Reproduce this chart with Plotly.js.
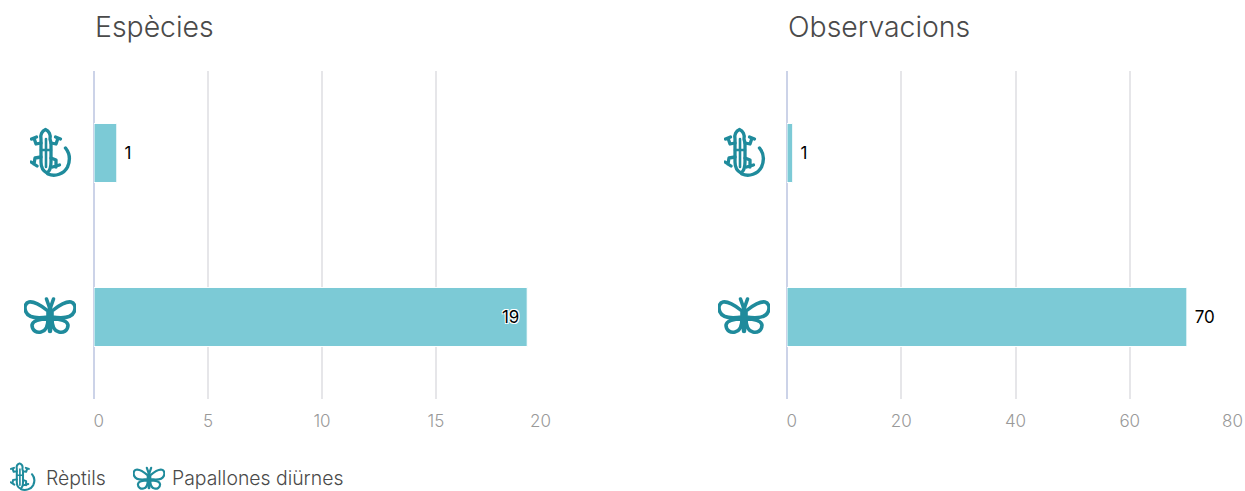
<!DOCTYPE html>
<html><head><meta charset="utf-8">
<script src="https://cdn.plot.ly/plotly-3.0.1.min.js"></script>
<style>html,body{margin:0;padding:0;background:#fff;overflow:hidden}</style>
</head><body><div id="chart" style="width:1245px;height:491px"></div>
<script>
const categories = ['Papallones diürnes', 'Rèptils'];
const especies = [19, 1];
const observacions = [70, 1];
const especiesTicks = [0, 5, 10, 15, 20];
const observacionsTicks = [0, 20, 40, 60, 80];
const especiesTickText = ['\u00a0\u00a00', '5', '10', '15', '20\u00a0\u00a0\u00a0\u00a0'];
const observacionsTickText = ['\u00a0\u00a00', '20', '40', '60', ' '];
const lastObservacionsTick = '80';

const W = 1245, H = 491;
const FONT = 'Inter, "Open Sans", sans-serif';
const ICON = '#1f8b9c';
const svgURI = s => 'data:image/svg+xml;utf8,' + encodeURIComponent(s);
const butterfly = svgURI(`<svg xmlns="http://www.w3.org/2000/svg" viewBox="0 0 52 40" width="208" height="160"><g fill="none" stroke="${ICON}" stroke-width="3.6" stroke-linejoin="round" stroke-linecap="round"><path d="M24 15C17 9 9 5 5 6C1 7 0 12 2 16C4 21 10 23 24 21Z"/><path d="M28 15C35 9 43 5 47 6C51 7 52 12 50 16C48 21 42 23 28 21Z"/><path d="M24 23C16 23 9 24 8 29C8 35 13 37 17 36C22 35 24 29 24 23Z"/><path d="M28 23C36 23 43 24 44 29C44 35 39 37 35 36C30 35 28 29 28 23Z"/><path d="M26 12V35" stroke-width="4.500"/><path d="M26 13L22.500 3M26 13L29.500 3"/></g></svg>`);
const lizard = svgURI(`<svg xmlns="http://www.w3.org/2000/svg" viewBox="0 0 42 50" width="168" height="200"><g fill="none" stroke="${ICON}" stroke-width="3.300" stroke-linejoin="round" stroke-linecap="round"><path d="M15.500 2.500C19 4 21 8 20 12L21 16L21 35C21 40 20 44 17 46C13 44 11 40 11 35L11 16L11 12C10 8 12 4 15.500 2.500Z"/><path d="M11 16L6 17L4 11M1.500 12L6.500 10"/><path d="M21 16L26 17L28 11M25.500 10L30.500 12"/><path d="M11 30L5 31L4 37M1 35L7 39"/><path d="M21 31L26 33L26 40M22.500 40L29.500 38"/><path d="M11 23H21M16 12V40" stroke-width="2.600"/><path d="M18 47C25 50 34 47 37.500 40C40.500 33 39.500 26 35.500 21" stroke-width="3.400"/></g></svg>`);
const img = (source, x0, y0, x1, y1) => ({source, xref:'paper', yref:'paper', x:x0/W, y:1-y0/H, sizex:(x1-x0)/W, sizey:(y1-y0)/H, xanchor:'left', yanchor:'top', sizing:'stretch', layer:'above'});
const text = (t, x, y, size, color) => ({text:t, xref:'paper', yref:'paper', x:x/W, y:1-y/H, xanchor:'left', yanchor:'middle', showarrow:false, font:{family:FONT, size, color, weight:300}});

const bar = (x, xa, ya, positions) => ({
  type:'bar', orientation:'h', y:categories, x, xaxis:xa, yaxis:ya, width:0.36,
  marker:{color:'#7ccad6', line:{color:'#ffffff', width:1}},
  text:x.map(String), textposition:positions, insidetextanchor:'end', cliponaxis:false,
  texttemplate:positions.map(p => p === 'outside' ? '\u00a0%{text}' : '%{text}\u00a0'),
  textfont:{family:FONT, size:17, color:'#000', shadow:'1px 1px 0 #fff, -1px -1px 0 #fff, 1px -1px 0 #fff, -1px 1px 0 #fff'},
  hoverinfo:'x+y', showlegend:false
});
const xax = (dom, max, vals, txt) => ({
  domain:dom, range:[0,max], tickmode:'array', tickvals:vals, ticktext:txt, ticks:'', showline:false,
  showgrid:true, gridcolor:'#e6e6e9', gridwidth:2, zeroline:true, zerolinecolor:'#ccd3e8', zerolinewidth:2,
  tickfont:{family:FONT, size:17, color:'#999999', weight:300}, tickangle:0, automargin:false, fixedrange:true,
  ticklabeloverflow:'allow', ticklabelstandoff:10
});
const yax = {domain:[1-399/H, 1-71/H], showticklabels:false, ticks:'', showgrid:false, zeroline:false, showline:false, automargin:false, fixedrange:true};

Plotly.newPlot('chart', [
  bar(especies, 'x', 'y', ['inside','outside']),
  bar(observacions, 'x2', 'y2', ['outside','outside'])
], {
  width:W, height:H, margin:{l:0,r:0,t:0,b:0}, paper_bgcolor:'#fff', plot_bgcolor:'#fff',
  bargap:0.64,
  xaxis:xax([94/W, 550/W], 20, especiesTicks, especiesTickText),
  xaxis2:xax([787/W, 1244/W], 80, observacionsTicks, observacionsTickText),
  yaxis:{...yax, anchor:'x'},
  yaxis2:{...yax, anchor:'x2'},
  annotations:[
    text('Espècies', 93, 27, 28.4, '#4a4a4a'),
    text('Observacions', 786, 27, 28.4, '#4a4a4a'),
    text('Rèptils', 44, 478, 19.4, '#4a4a4a'),
    text('Papallones diürnes', 170, 478, 19.4, '#4a4a4a'),
    {text:lastObservacionsTick, xref:'paper', yref:'paper', x:1244.5/W, y:1-421/H, xanchor:'right', yanchor:'middle', showarrow:false, font:{family:FONT, size:17, color:'#999999', weight:300}}
  ],
  images:[
    img(lizard, 30, 127, 72, 177),
    img(butterfly, 24, 296, 76, 336),
    img(lizard, 724, 127, 766, 177),
    img(butterfly, 718, 296, 770, 336),
    img(lizard, 10, 462, 36, 491),
    img(butterfly, 133, 466, 165, 491)
  ]
}, {displayModeBar:false, staticPlot:true});
</script></body></html>
